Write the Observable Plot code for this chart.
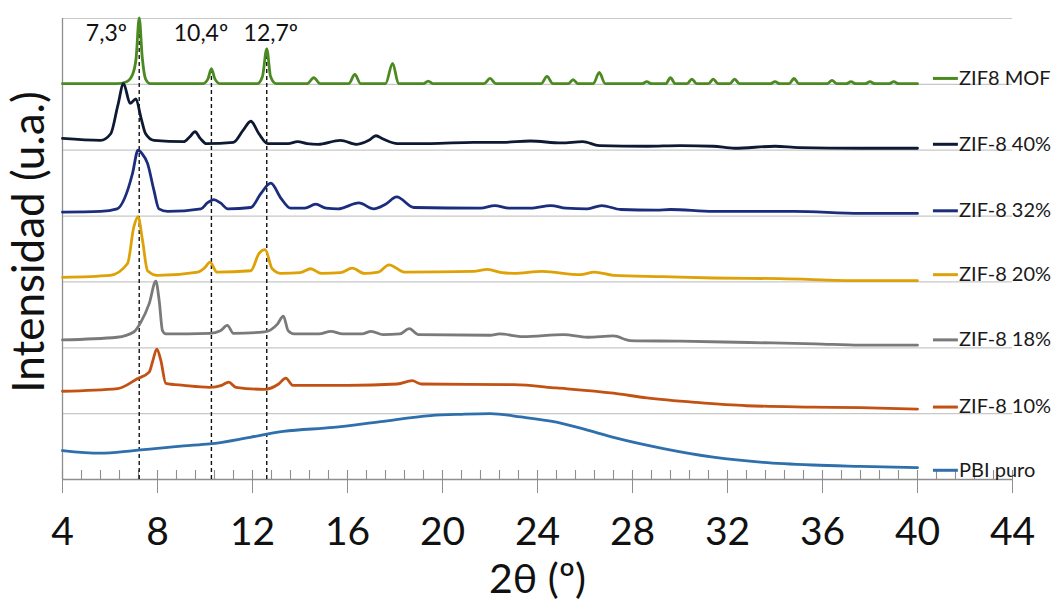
<!DOCTYPE html>
<html>
<head>
<meta charset="utf-8">
<script src="https://cdn.jsdelivr.net/npm/d3@7"></script>
<script src="https://cdn.jsdelivr.net/npm/@observablehq/plot@0.6"></script>
<style>
  html, body { margin: 0; padding: 0; background: #fff; }
  #chart svg { display: block; }
</style>
</head>
<body>
<div id="chart"></div>
<script>
// ---- Series names & colours (top to bottom) ----
const seriesNames = ["ZIF8 MOF", "ZIF-8 40%", "ZIF-8 32%", "ZIF-8 20%", "ZIF-8 18%", "ZIF-8 10%", "PBI puro"];
const seriesColors = ["#4a8a20", "#0e1a33", "#1b2d7c", "#dea106", "#7a7a7a", "#c25113", "#2f6fac"];

// ---- Diffractograms: [2θ, stacked intensity (u.a.)] ----
const zif8Mof = [
  [4,6.01],[6.3,6.01],[6.7,6.04],[6.95,6.15],[7.1,6.4],[7.23,7.01],[7.36,6.4],[7.5,6.08],[7.7,6.01],
  [9.9,6.01],[10.12,6.08],[10.27,6.24],[10.42,6.08],[10.65,6.01],
  [12.2,6.01],[12.42,6.12],[12.6,6.54],[12.76,6.12],[13.0,6.01],
  [14.3,6.01],[14.58,6.10],[14.85,6.01],
  [16.05,6.01],[16.31,6.15],[16.55,6.01],
  [17.6,6.01],[17.9,6.32],[18.15,6.01],
  [19.2,6.01],[19.4,6.05],[19.6,6.01],
  [21.75,6.01],[22.0,6.09],[22.25,6.01],
  [24.15,6.01],[24.4,6.12],[24.65,6.01],
  [25.3,6.01],[25.5,6.07],[25.7,6.01],
  [26.35,6.01],[26.6,6.18],[26.85,6.01],
  [28.4,6.01],[28.6,6.04],[28.8,6.01],
  [29.4,6.01],[29.6,6.10],[29.8,6.01],
  [30.3,6.01],[30.5,6.08],[30.7,6.01],
  [31.2,6.01],[31.4,6.08],[31.6,6.01],
  [32.1,6.01],[32.3,6.08],[32.5,6.01],
  [33.8,6.01],[34.0,6.04],[34.2,6.01],
  [34.6,6.01],[34.8,6.09],[35.0,6.01],
  [36.2,6.01],[36.4,6.06],[36.6,6.01],
  [37.0,6.01],[37.2,6.04],[37.4,6.01],
  [37.8,6.01],[38.0,6.04],[38.2,6.01],
  [38.8,6.01],[39.0,6.04],[39.2,6.01],[40,6.01]
];
const zif8_40 = [
  [4,5.18],[5.6,5.15],[6.03,5.25],[6.33,5.68],[6.57,6.01],[6.85,5.71],[7.09,5.78],[7.3,5.50],[7.5,5.25],
  [7.85,5.15],[9.1,5.13],[9.35,5.2],[9.58,5.28],[9.8,5.18],[10.05,5.10],[11.2,5.12],[11.6,5.30],[11.93,5.44],
  [12.27,5.25],[12.64,5.10],[13.5,5.10],[13.9,5.13],[14.3,5.10],[14.75,5.09],[15.7,5.15],[16.4,5.09],
  [16.9,5.15],[17.2,5.22],[17.5,5.17],[18.1,5.10],[19.5,5.10],[21.3,5.12],[22.5,5.12],[23.7,5.14],
  [25.0,5.11],[25.9,5.13],[26.6,5.07],[28.6,5.06],[30.0,5.07],[31.4,5.06],[32.3,5.03],[34.0,5.06],
  [35.0,5.04],[37.6,5.03],[40,5.03]
];
const zif8_32 = [
  [4,4.06],[5.6,4.07],[6.3,4.11],[6.74,4.39],[6.95,4.65],[7.18,5.00],[7.35,4.95],[7.58,4.80],[7.85,4.39],
  [8.06,4.11],[8.43,4.07],[9.83,4.11],[10.1,4.2],[10.37,4.25],[10.65,4.2],[10.96,4.11],[11.93,4.13],
  [12.35,4.34],[12.77,4.50],[13.2,4.27],[13.6,4.12],[14.2,4.12],[14.66,4.18],[15.1,4.12],[15.6,4.11],
  [16.48,4.20],[17.1,4.11],[17.6,4.18],[18.07,4.29],[18.8,4.13],[21.6,4.12],[22.2,4.16],[22.8,4.12],
  [23.7,4.12],[24.56,4.16],[25.2,4.12],[26.1,4.11],[26.7,4.16],[27.5,4.10],[29.0,4.09],[29.6,4.10],
  [31.4,4.07],[34.8,4.07],[37.6,4.04],[40,4.04]
];
const zif8_20 = [
  [4,3.07],[6.0,3.10],[6.74,3.28],[7.0,3.83],[7.18,3.99],[7.37,3.63],[7.58,3.17],[8.0,3.10],[9.7,3.15],
  [10.0,3.22],[10.21,3.30],[10.5,3.15],[11.93,3.17],[12.27,3.43],[12.53,3.49],[12.83,3.20],[13.2,3.13],
  [14.0,3.14],[14.45,3.20],[14.9,3.13],[15.7,3.14],[16.2,3.21],[16.7,3.13],[17.3,3.15],[17.75,3.26],
  [18.4,3.15],[21.3,3.16],[21.9,3.19],[22.5,3.14],[23.0,3.13],[24.2,3.16],[25.8,3.11],[26.4,3.15],
  [27.2,3.10],[29.3,3.08],[31.4,3.06],[34.2,3.05],[37.6,3.02],[40,3.02]
];
const zif8_18 = [
  [4,2.12],[6.3,2.16],[7.0,2.24],[7.3,2.39],[7.65,2.67],[7.93,3.01],[8.07,2.72],[8.21,2.26],[8.35,2.21],
  [10.2,2.22],[10.65,2.26],[10.94,2.34],[11.2,2.22],[12.5,2.24],[13.05,2.36],[13.3,2.48],[13.5,2.26],
  [13.75,2.21],[14.8,2.21],[15.3,2.25],[15.8,2.21],[16.6,2.21],[17.0,2.25],[17.5,2.20],[18.2,2.21],
  [18.6,2.29],[19.0,2.20],[22.0,2.19],[22.4,2.21],[23.4,2.17],[25.1,2.20],[26.1,2.16],[27.2,2.18],
  [27.9,2.11],[30.0,2.10],[32.9,2.08],[35.7,2.06],[37.6,2.04],[40,2.04]
];
const zif8_10 = [
  [4,1.34],[6.33,1.38],[7.15,1.53],[7.65,1.63],[7.8,1.8],[7.97,1.98],[8.14,1.81],[8.35,1.46],[9.1,1.43],
  [10.2,1.40],[10.7,1.43],[11.0,1.48],[11.3,1.40],[12.5,1.37],[13.1,1.45],[13.4,1.54],[13.7,1.43],
  [16.0,1.43],[18.1,1.45],[18.72,1.50],[19.1,1.45],[23.0,1.44],[24.8,1.39],[27.2,1.31],[28.6,1.24],
  [30.7,1.17],[32.8,1.12],[35.6,1.10],[37.6,1.09],[40,1.07]
];
const pbiPuro = [
  [4,0.44],[5.6,0.40],[7.0,0.44],[9.1,0.51],[10.2,0.54],[11.9,0.64],[13.3,0.73],[15.4,0.79],[17.4,0.88],
  [19.5,0.97],[20.8,0.99],[22.0,1.00],[23.3,0.95],[24.8,0.87],[26.0,0.76],[27.2,0.64],[29.3,0.47],
  [31.4,0.34],[33.5,0.26],[35.6,0.22],[37.6,0.20],[40,0.18]
];
const seriesValues = [zif8Mof, zif8_40, zif8_32, zif8_20, zif8_18, zif8_10, pbiPuro];

// ---- Reference peaks ----
const peakLabels = ["7,3º", "10,4º", "12,7º"];
const peakPositions = [7.23, 10.27, 12.6];
const peakTops = [7.01, 6.24, 6.54];
const peakLabelX = [5.85, 9.83, 12.77];

// ---- Axis ticks ----
const xTicks = [4, 8, 12, 16, 20, 24, 28, 32, 36, 40, 44];
const xMinorTicks = d3.range(0, 51).map(i => 4 + i * 0.8);
const gridLevels = [1, 2, 3, 4, 5, 6, 7];
const legendRows = [6.09, 5.09, 4.08, 3.11, 2.12, 1.10, 0.14];

// ---- Build tables ----
const rows = seriesValues.flatMap((pts, i) => pts.map(([x, y]) => ({x, y, name: seriesNames[i]})));
const peaks = peakLabels.map((label, i) => ({label, x: peakPositions[i], top: peakTops[i], lx: peakLabelX[i]}));
const legend = seriesNames.map((name, i) => ({name, y: legendRows[i]}));

const axisGray = "#8e8e8e";

const chart = Plot.plot({
  width: 1057,
  height: 601,
  marginLeft: 62,
  marginRight: 45,
  marginTop: 18,
  marginBottom: 122,
  x: {domain: [4, 44]},
  y: {domain: [0, 7], axis: null},
  color: {domain: seriesNames, range: seriesColors},
  style: {fontFamily: "Lato, 'Open Sans', sans-serif", background: "#fff", overflow: "visible"},
  marks: [
    Plot.ruleY(gridLevels, {stroke: "#c8c8c8", strokeWidth: 1.2}),
    Plot.ruleX([4], {stroke: axisGray, strokeWidth: 1.3}),
    Plot.ruleY([0], {stroke: axisGray, strokeWidth: 1.3}),
    Plot.ruleX(xMinorTicks, {x: d => d, y1: 0, y2: 0, insetTop: -9, stroke: axisGray, strokeWidth: 1.1}),
    Plot.axisX({ticks: xTicks, tickSize: 14, tickPadding: 24, fontSize: 39, label: null,
                stroke: axisGray, fill: "#111", tickFormat: d => String(d)}),
    Plot.ruleX(peaks, {x: "x", y1: 0, y2: "top", stroke: "#111", strokeWidth: 1.4, strokeDasharray: "4,3"}),
    Plot.line(rows, {x: "x", y: "y", z: "name", stroke: "name", strokeWidth: 2.8, curve: "monotone-x"}),
    Plot.text(peaks, {x: "lx", y: 6.77, text: "label", fontSize: 23, fill: "#111"}),
    Plot.link(legend, {x1: 40.65, x2: 41.7, y1: "y", y2: "y", stroke: "name", strokeWidth: 3}),
    Plot.text(legend, {x: 41.75, y: "y", text: "name", textAnchor: "start", fontSize: 20, fill: "#1a1a1a"}),
    Plot.text(["Intensidad (u.a.)"], {frameAnchor: "left", textAnchor: "middle", rotate: -90, dx: -33, dy: -7, fontSize: 44, fill: "#111"}),
    Plot.text(["2θ (º)"], {frameAnchor: "bottom", dy: 113, fontSize: 41, fill: "#111"})
  ]
});
document.getElementById("chart").appendChild(chart);
</script>
</body>
</html>
